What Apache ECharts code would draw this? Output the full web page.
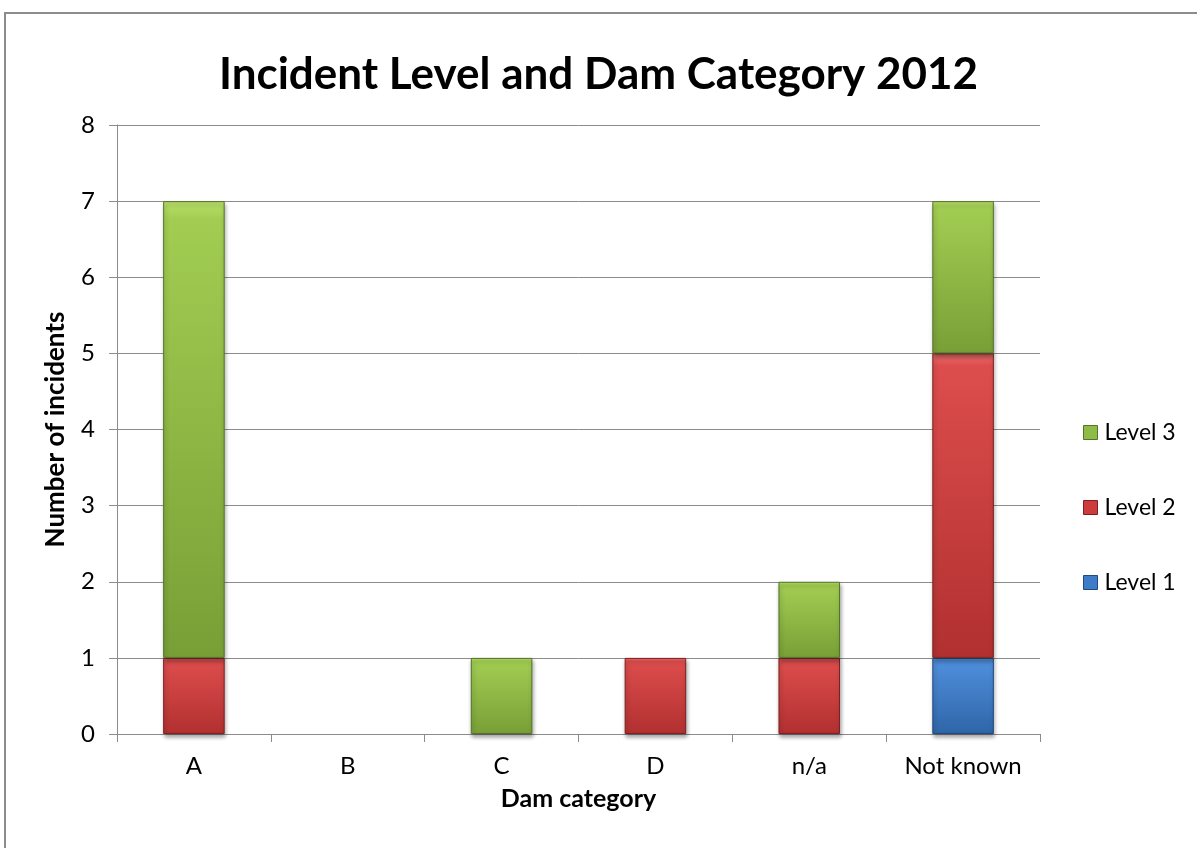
<!DOCTYPE html>
<html>
<head>
<meta charset="utf-8">
<script src="https://cdn.jsdelivr.net/npm/echarts@6/dist/echarts.min.js"></script>
<style>
  html, body { margin: 0; padding: 0; background: #fff; }
  #frame { position: absolute; left: 4px; top: 12px; width: 1300px; height: 900px;
           border-left: 2px solid #8c8c8c; border-top: 2px solid #8c8c8c; box-sizing: border-box; }
  #chart { position: absolute; left: 0; top: 0; width: 1197px; height: 848px; }
</style>
</head>
<body>
<div id="frame"></div>
<div id="chart"></div>
<script>
// Incident counts per dam category, split by incident level
const categories = ['A', 'B', 'C', 'D', 'n/a', 'Not known'];
const level1 = [0, 0, 0, 0, 0, 1];
const level2 = [1, 0, 0, 1, 1, 4];
const level3 = [6, 0, 1, 0, 1, 2];
const seriesNames = ['Level 1', 'Level 2', 'Level 3'];

const FONT = 'Lato, "Open Sans", sans-serif';

// Vertical shading: bright bevel strip at the top, darker towards the base
function grad(hi, top, bottom) {
  return new echarts.graphic.LinearGradient(0, 0, 0, 1, [
    { offset: 0, color: hi },
    { offset: 0.04, color: top },
    { offset: 1, color: bottom }
  ]);
}

const styles = [
  { fill: grad('#6fb0f5', '#4f8fdc', '#2f65a8'), border: '#1f4a80', icon: '#3f7cc8' },
  { fill: grad('#f07070', '#dd4d4d', '#b23030'), border: '#7e2020', icon: '#cc3c3c' },
  { fill: grad('#b9e06a', '#a2cd52', '#789f36'), border: '#55742a', icon: '#8fbb48' }
];

function bar(name, data, st) {
  return {
    name: name,
    type: 'bar',
    stack: 'total',
    barWidth: '40%',
    data: data.map(v => v === 0 ? null : v),
    itemStyle: {
      color: st.fill,
      borderColor: st.border,
      borderWidth: 1,
      shadowColor: 'rgba(0,0,0,0.35)',
      shadowBlur: 4,
      shadowOffsetX: 1,
      shadowOffsetY: 3
    }
  };
}

const chart = echarts.init(document.getElementById('chart'), null, { renderer: 'canvas' });
chart.setOption({
  backgroundColor: 'transparent',
  animation: false,
  title: {
    text: 'Incident Level and Dam Category 2012',
    left: 'center',
    top: 48,
    textStyle: { fontFamily: FONT, fontWeight: 'bold', fontSize: 44, color: '#000' }
  },
  legend: {
    orient: 'vertical',
    left: 1078,
    top: 416,
    itemWidth: 14,
    itemHeight: 14,
    itemGap: 52,
    icon: 'rect',
    data: [
      { name: 'Level 3', itemStyle: { color: styles[2].icon, borderColor: styles[2].border, borderWidth: 1 } },
      { name: 'Level 2', itemStyle: { color: styles[1].icon, borderColor: styles[1].border, borderWidth: 1 } },
      { name: 'Level 1', itemStyle: { color: styles[0].icon, borderColor: styles[0].border, borderWidth: 1 } }
    ],
    textStyle: { fontFamily: FONT, fontSize: 23, color: '#000', padding: [0, 0, 0, 2] }
  },
  grid: { left: 117, right: 157, top: 125, bottom: 114, containLabel: false },
  xAxis: {
    type: 'category',
    data: categories,
    name: 'Dam category',
    nameLocation: 'middle',
    nameGap: 52,
    nameTextStyle: { fontFamily: FONT, fontWeight: 'bold', fontSize: 25, color: '#000' },
    axisLine: { lineStyle: { color: '#8c8c8c', width: 1 } },
    axisTick: { show: true, length: 8, lineStyle: { color: '#8c8c8c' } },
    axisLabel: { fontFamily: FONT, fontSize: 24, color: '#000', margin: 20 }
  },
  yAxis: {
    type: 'value',
    min: 0,
    max: 8,
    interval: 1,
    name: 'Number of incidents',
    nameLocation: 'middle',
    nameGap: 48,
    nameTextStyle: { fontFamily: FONT, fontWeight: 'bold', fontSize: 26, color: '#000' },
    axisLine: { show: true, lineStyle: { color: '#8c8c8c', width: 1 } },
    axisTick: { show: true, length: 8, lineStyle: { color: '#8c8c8c' } },
    axisLabel: { fontFamily: FONT, fontSize: 24, color: '#000', margin: 22 },
    splitLine: { lineStyle: { color: '#8c8c8c', width: 1 } }
  },
  series: [
    bar(seriesNames[0], level1, styles[0]),
    bar(seriesNames[1], level2, styles[1]),
    bar(seriesNames[2], level3, styles[2])
  ]
});
</script>
</body>
</html>
